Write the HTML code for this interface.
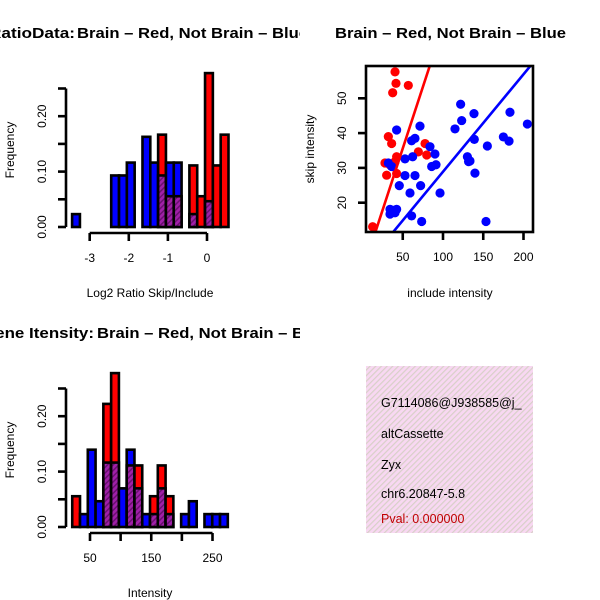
<!DOCTYPE html>
<html><head><meta charset="utf-8"><style>
html,body{margin:0;padding:0;background:#fff;}
svg{display:block;font-family:"Liberation Sans",sans-serif;}
</style></head><body>
<svg id="chart" width="600" height="600" viewBox="0 0 600 600">
<defs>
<pattern id="purp" width="4" height="4" patternUnits="userSpaceOnUse" patternTransform="rotate(45)">
<rect width="4" height="4" fill="#a020a8"/><rect width="1.5" height="4" fill="#6a1070"/></pattern>
<pattern id="pink" width="4" height="4" patternUnits="userSpaceOnUse" patternTransform="rotate(45)">
<rect width="4" height="4" fill="#f8d8f2"/><rect width="1.2" height="4" fill="#d8d0c8"/></pattern>
<clipPath id="clipL"><rect x="0" y="0" width="300" height="300"/></clipPath>
<clipPath id="clipB"><rect x="0" y="300" width="300" height="300"/></clipPath>
<clipPath id="clipS"><rect x="366" y="66" width="167" height="166"/></clipPath>
<clipPath id="clipP"><rect x="366" y="366" width="167" height="167"/></clipPath>
</defs>
<g id="h1"></g><g id="h2"></g><g id="sc"></g>
<g clip-path="url(#clipL)" font-size="15" font-weight="bold">
<text x="-11" y="38" textLength="86" lengthAdjust="spacingAndGlyphs">RatioData: </text>
<text x="77" y="38" textLength="231" lengthAdjust="spacingAndGlyphs">Brain – Red, Not Brain – Blue</text>
</g>
<text x="335" y="38" font-size="15" font-weight="bold" textLength="231" lengthAdjust="spacingAndGlyphs">Brain – Red, Not Brain – Blue</text>
<g clip-path="url(#clipB)" font-size="15" font-weight="bold">
<text x="-18" y="338" textLength="112" lengthAdjust="spacingAndGlyphs">Gene Itensity: </text>
<text x="97" y="338" textLength="231" lengthAdjust="spacingAndGlyphs">Brain – Red, Not Brain – Blue</text>
</g>
<text x="150" y="297" font-size="12" text-anchor="middle">Log2 Ratio Skip/Include</text>
<text x="150" y="597" font-size="12" text-anchor="middle">Intensity</text>
<text x="450" y="297" font-size="12" text-anchor="middle">include intensity</text>
<text transform="translate(14,150) rotate(-90)" font-size="12" text-anchor="middle">Frequency</text>
<text transform="translate(14,450) rotate(-90)" font-size="12" text-anchor="middle">Frequency</text>
<text transform="translate(314,149) rotate(-90)" font-size="12" text-anchor="middle">skip intensity</text>
<g>
<rect x="366" y="366" width="167" height="167" fill="url(#pink)"/>
<g clip-path="url(#clipP)" font-size="12.5">
<text x="381" y="407">G7114086@J938585@j_</text>
<text x="381" y="438">altCassette</text>
<text x="381" y="469">Zyx</text>
<text x="381" y="498">chr6.20847-5.8</text>
<text x="381" y="523" fill="#c00000">Pval: 0.000000</text>
</g></g>
</svg>
<script>
const NS="http://www.w3.org/2000/svg";
// Histogram 1: log2 ratio, bins start -3.45 width 0.2
const ratioBinStart=-3.45, ratioBinWidth=0.2;
const ratioBlue=[1/43,0,0,0,0,4/43,4/43,5/43,0,7/43,5/43,4/43,5/43,5/43,0,1/43,0,2/43,0,0];
const ratioRed=[0,0,0,0,0,0,0,0,0,0,0,3/18,1/18,1/18,0,2/18,1/18,5/18,2/18,3/18];
const ratioXTicks=[-3,-2,-1,0];
const freqTicks=[0,0.05,0.10,0.15,0.20,0.25];
const freqLabels=["0.00","","0.10","","0.20",""];
// Histogram 2: intensity
const intBinStart=21, intBinWidth=12.7;
const intBlue=[0,1/43,6/43,2/43,5/43,5/43,3/43,6/43,3/43,1/43,1/43,3/43,1/43,0,1/43,2/43,0,1/43,1/43,1/43];
const intRed=[1/18,0,0,0,4/18,5/18,0,2/18,2/18,0,1/18,2/18,1/18,0,0,0,0,0,0,0];
const intXTicks=[50,100,150,200,250];
const intXLabels=["50","","150","","250"];
// Scatter
const redX=[40.4,41.6,56.9,37.5,32.1,36.2,42.4,40.4,27.9,30.0,42.4,69.4,77.7,79.8,12.6,34];
const redY=[57.6,54.3,53.7,51.6,39.0,37.0,33.2,31.8,31.4,27.9,28.4,34.6,37.0,33.7,13.1,30.9];
const blueX=[42.4,71.4,61.0,65.2,83.8,90.0,85.9,91.3,32.1,36.2,52.8,62.3,52.8,65.2,45.7,72.2,59.0,96.3,34.2,42.4,34.2,40.4,61.0,73.5,121.9,123.2,114.9,138.5,138.9,130.3,133.5,131.8,139.7,155.1,175.0,182.0,183.2,204.8,153.4,38];
const blueY=[40.9,42.0,37.8,38.5,36.1,34.0,30.4,30.9,31.4,30.4,32.6,33.2,27.8,27.8,24.9,24.9,22.8,22.8,18.1,18.1,16.7,17.1,16.2,14.6,48.3,43.6,41.2,45.6,38.2,33.2,32.0,31.8,28.5,36.3,38.9,37.7,46.0,42.6,14.6,17.8];
const redFit=[0.24,0.707];
const blueFit=[0.9,0.28];
const scXTicks=[50,100,150,200];
const scYTicks=[20,30,40,50];

function mk(tag,attrs,parent){const e=document.createElementNS(NS,tag);for(const k in attrs)e.setAttribute(k,attrs[k]);parent.appendChild(e);return e;}

function hist(gid,blue,red,x0,bw,xs,yBase,xTicks,xLabels,xAxisY,xAxisMin,xAxisMax,prefix){
  const g=document.getElementById(gid);
  const ys=v=>yBase-v*554;
  for(let i=0;i<blue.length;i++){
    const a=xs(x0+i*bw), b=xs(x0+(i+1)*bw);
    const hi=Math.max(blue[i],red[i]), lo=Math.min(blue[i],red[i]);
    const col=blue[i]>=red[i]?"#0000ff":"#ff0000";
    const r=mk("rect",{x:a,y:ys(hi),width:b-a,height:yBase-ys(hi),fill:col,stroke:"#000","stroke-width":2.6},g);
    
    
    if(lo>0){
      const p=mk("rect",{x:a,y:ys(lo),width:b-a,height:yBase-ys(lo),fill:"url(#purp)",stroke:"#000","stroke-width":2.6},g);
      
      
    }
  }
  const ya=mk("g",{},g);
  
  
  mk("line",{x1:66,x2:66,y1:ys(0),y2:ys(0.25),stroke:"#000","stroke-width":2.6},ya);
  freqTicks.forEach((t,i)=>{
    mk("line",{x1:58,x2:66,y1:ys(t),y2:ys(t),stroke:"#000","stroke-width":2.6},ya);
    if(freqLabels[i]){const tx=mk("text",{transform:`translate(46,${ys(t)}) rotate(-90)`,"font-size":12,"text-anchor":"middle"},ya);tx.textContent=freqLabels[i];}
  });
  const xa=mk("g",{},g);
  
  
  mk("line",{x1:xs(xAxisMin),x2:xs(xAxisMax),y1:xAxisY,y2:xAxisY,stroke:"#000","stroke-width":2.6},xa);
  xTicks.forEach((t,i)=>{
    mk("line",{x1:xs(t),x2:xs(t),y1:xAxisY,y2:xAxisY+8,stroke:"#000","stroke-width":2.6},xa);
    if(xLabels[i]){const tx=mk("text",{x:xs(t),y:xAxisY+29,"font-size":12,"text-anchor":"middle"},xa);tx.textContent=xLabels[i];}
  });
}
const xs1=v=>207+v*39.1;
hist("h1",ratioBlue,ratioRed,ratioBinStart,ratioBinWidth,xs1,227,ratioXTicks,ratioXTicks.map(String),233,-3,0,"ratio");
const xs2=v=>90+(v-50)*0.6125;
hist("h2",intBlue,intRed,intBinStart,intBinWidth,xs2,527,intXTicks,intXLabels,533,50,250,"intensity");

(function(){
  const g=document.getElementById("sc");
  const sx=v=>362.5+v*0.805, sy=v=>272.3-v*3.48;
  const pts=mk("g",{"clip-path":"url(#clipS)"},g);
  redX.forEach((x,i)=>{const c=mk("circle",{cx:sx(x),cy:sy(redY[i]),r:4.6,fill:"#ff0000"},pts);
    
    });
  blueX.forEach((x,i)=>{const c=mk("circle",{cx:sx(x),cy:sy(blueY[i]),r:4.6,fill:"#0000ff"},pts);
    
    });
  const lr=mk("line",{x1:sx(0),y1:sy(redFit[0]),x2:sx(250),y2:sy(redFit[0]+redFit[1]*250),stroke:"#ff0000","stroke-width":2.6},pts);
  
  
  const lb=mk("line",{x1:sx(0),y1:sy(blueFit[0]),x2:sx(250),y2:sy(blueFit[0]+blueFit[1]*250),stroke:"#0000ff","stroke-width":2.6},pts);
  
  
  const box=mk("rect",{x:366,y:66,width:167,height:166,fill:"none",stroke:"#000","stroke-width":2.6},g);
  
  
  const xa=mk("g",{},g);
  
  
  scXTicks.forEach(t=>{mk("line",{x1:sx(t),x2:sx(t),y1:232,y2:240,stroke:"#000","stroke-width":2.6},xa);
    const tx=mk("text",{x:sx(t),y:261,"font-size":12,"text-anchor":"middle"},xa);tx.textContent=t;});
  const ya=mk("g",{},g);
  
  
  scYTicks.forEach(t=>{mk("line",{x1:358,x2:366,y1:sy(t),y2:sy(t),stroke:"#000","stroke-width":2.6},ya);
    const tx=mk("text",{transform:`translate(346,${sy(t)}) rotate(-90)`,"font-size":12,"text-anchor":"middle"},ya);tx.textContent=t;});
})();
</script>
</body></html>
